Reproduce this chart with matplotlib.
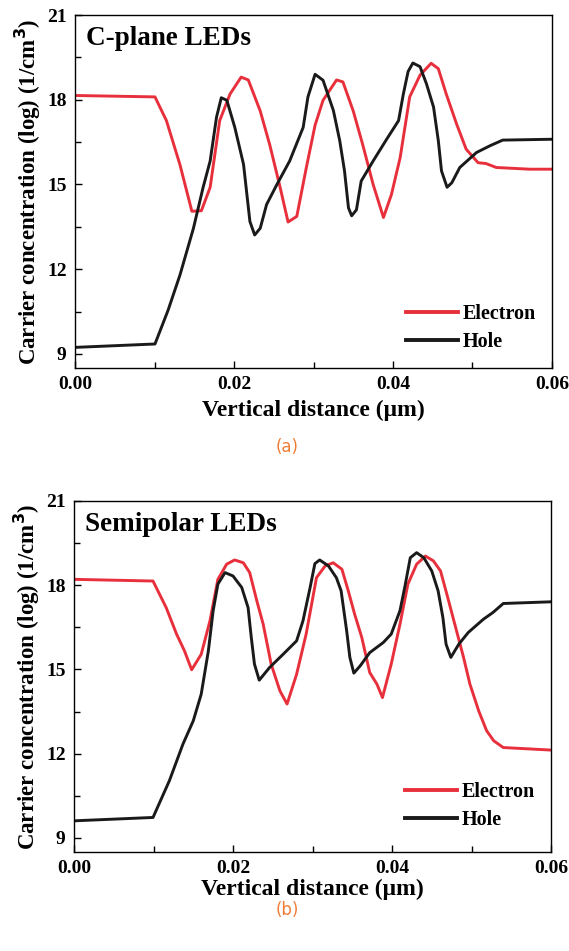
import matplotlib
matplotlib.use("Agg")
import matplotlib.pyplot as plt
from matplotlib.ticker import MultipleLocator

# ---- data: (a) C-plane ----
a_e_x = [0, 0.01006, 0.0115, 0.0132, 0.0147, 0.0159, 0.017, 0.0182, 0.0195, 0.0209, 0.0218,
         0.0233, 0.0245, 0.0258, 0.0268, 0.0279, 0.0291, 0.0302, 0.0312, 0.0329, 0.0337,
         0.035, 0.0362, 0.0375, 0.0388, 0.0398, 0.0409, 0.0421, 0.0434, 0.0448, 0.0457,
         0.0467, 0.048, 0.0492, 0.0507, 0.0517, 0.053, 0.0572, 0.06]
a_e_y = [18.15, 18.1, 17.26, 15.7, 14.05, 14.07, 14.9, 17.26, 18.2, 18.8, 18.7,
         17.6, 16.4, 14.9, 13.67, 13.87, 15.6, 17.1, 17.98, 18.7, 18.63,
         17.6, 16.4, 15.0, 13.83, 14.64, 15.95, 18.1, 18.87, 19.29, 19.1,
         18.2, 17.14, 16.25, 15.77, 15.74, 15.6, 15.54, 15.54]
a_h_x = [0, 0.01006, 0.0117, 0.0132, 0.0149, 0.0161, 0.017, 0.0178, 0.0184, 0.0191, 0.0201,
         0.0212, 0.022, 0.0226, 0.0233, 0.0241, 0.0254, 0.027, 0.0287, 0.0293, 0.0302,
         0.0312, 0.0325, 0.0333, 0.0339, 0.0344, 0.0348, 0.0354, 0.036, 0.0375, 0.0392,
         0.0407, 0.0413, 0.0419, 0.0425, 0.0434, 0.0442, 0.0451, 0.0457, 0.0461, 0.0468,
         0.0474, 0.0484, 0.0505, 0.0522, 0.0538, 0.06]
a_h_y = [9.23, 9.35, 10.54, 11.79, 13.45, 14.88, 15.83, 17.38, 18.07, 17.98, 17.02,
         15.71, 13.69, 13.21, 13.45, 14.29, 15.0, 15.83, 17.02, 18.1, 18.9,
         18.69, 17.62, 16.55, 15.48, 14.17, 13.89, 14.1, 15.12, 15.83, 16.6,
         17.26, 18.2, 19.0, 19.3, 19.17, 18.57, 17.74, 16.55, 15.48, 14.9,
         15.06, 15.6, 16.13, 16.37, 16.57, 16.6]

# ---- data: (b) Semipolar ----
b_e_x = [0, 0.00994, 0.0116, 0.0129, 0.0139, 0.0148, 0.016, 0.0171, 0.0181, 0.0192, 0.0202,
         0.0213, 0.0221, 0.023, 0.0238, 0.0248, 0.0259, 0.0268, 0.028, 0.0292, 0.0305,
         0.0316, 0.0326, 0.0337, 0.0345, 0.0353, 0.0362, 0.0372, 0.0381, 0.0388, 0.0399,
         0.041, 0.042, 0.0431, 0.0442, 0.0452, 0.0461, 0.0469, 0.0479, 0.049, 0.0498,
         0.0509, 0.0519, 0.0528, 0.054, 0.06]
b_e_y = [18.21, 18.15, 17.2, 16.26, 15.66, 14.99, 15.54, 16.73, 18.21, 18.75, 18.9,
         18.8, 18.45, 17.44, 16.61, 15.19, 14.24, 13.77, 14.83, 16.26, 18.27,
         18.69, 18.8, 18.57, 17.8, 16.97, 16.14, 14.89, 14.48, 14.0, 15.19,
         16.61, 18.04, 18.75, 19.04, 18.87, 18.51, 17.68, 16.61, 15.43, 14.48,
         13.53, 12.82, 12.46, 12.22, 12.13]
b_h_x = [0, 0.00994, 0.012, 0.0137, 0.015, 0.016, 0.0169, 0.0175, 0.0181, 0.019, 0.02,
         0.0211, 0.0219, 0.0223, 0.0227, 0.0233, 0.0246, 0.0263, 0.028, 0.0288, 0.0297,
         0.0303, 0.0309, 0.032, 0.033, 0.0336, 0.0343, 0.0347, 0.0352, 0.036, 0.0372,
         0.0389, 0.0399, 0.041, 0.0416, 0.0423, 0.0431, 0.044, 0.045, 0.0458, 0.0464,
         0.0468, 0.0474, 0.0484, 0.0496, 0.0515, 0.0527, 0.054, 0.06]
b_h_y = [9.61, 9.73, 11.04, 12.34, 13.17, 14.12, 15.66, 17.09, 18.04, 18.45, 18.33,
         17.92, 17.2, 16.14, 15.19, 14.62, 15.07, 15.54, 16.02, 16.73, 17.92,
         18.77, 18.9, 18.69, 18.27, 17.8, 16.37, 15.43, 14.87, 15.13, 15.6,
         15.96, 16.26, 17.09, 17.92, 18.98, 19.16, 18.98, 18.51, 17.8, 16.85,
         15.9, 15.43, 15.9, 16.32, 16.79, 17.03, 17.35, 17.41]

titles = ["C-plane LEDs", "Semipolar LEDs"]
panel_labels = ["(a)", "(b)"]
series_names = ["Electron", "Hole"]
xticks = [0.00, 0.02, 0.04, 0.06]
xtick_labels = ["0.00", "0.02", "0.04", "0.06"]
yticks = [9, 12, 15, 18, 21]

RED = "#e8303c"
BLACK = "#1a1a1a"
SERIF = "Liberation Serif"

fig = plt.figure(figsize=(5.69, 9.51), dpi=100)
rects = [[75/569, 1-368/951, 477/569, 353/951],
         [74/569, 1-852/951, 477/569, 351/951]]
data = [(a_e_x, a_e_y, a_h_x, a_h_y), (b_e_x, b_e_y, b_h_x, b_h_y)]
lab_y = [1-447/951, 1-910/951]
xlabpad = [5, 1]
leg_y = [-0.005, 0.011]

for i in range(2):
    ax = fig.add_axes(rects[i])
    ex, ey, hx, hy = data[i]
    ax.plot(ex, ey, color=RED, lw=2.1, label=series_names[0])
    ax.plot(hx, hy, color=BLACK, lw=2.1, label=series_names[1])
    ax.set_xlim(0, 0.06)
    ax.set_ylim(8.5, 21)
    ax.set_xticks(xticks)
    ax.set_xticklabels(xtick_labels)
    ax.set_yticks(yticks)
    ax.xaxis.set_minor_locator(MultipleLocator(0.01))
    ax.yaxis.set_minor_locator(MultipleLocator(1.5))
    ax.tick_params(which="both", direction="in", top=False, right=False)
    ax.tick_params(which="major", length=5, width=1, pad=6)
    ax.tick_params(which="minor", length=4, width=1)
    for lab in ax.get_xticklabels() + ax.get_yticklabels():
        lab.set_fontfamily(SERIF)
        lab.set_fontweight("bold")
        lab.set_fontsize(14)
    for s in ax.spines.values():
        s.set_linewidth(1.0)
    ax.set_xlabel("Vertical distance (\u03bcm)", fontfamily=SERIF, fontweight="bold",
                  fontsize=17, labelpad=xlabpad[i])
    ax.set_ylabel("Carrier concentration (log) (1/cm$^{\\mathbf{3}}$)", fontfamily=SERIF,
                  fontweight="bold", fontsize=16.5, labelpad=3)
    ax.text(0.023, 0.97, titles[i], transform=ax.transAxes, fontfamily=SERIF,
            fontweight="bold", fontsize=19.5, va="top", ha="left")
    leg = ax.legend(loc="lower right", bbox_to_anchor=(1.005, leg_y[i]), frameon=False,
                    prop={"family": SERIF, "weight": "bold", "size": 14.5},
                    handlelength=2.6, handletextpad=0.25, labelspacing=0.4)
    for h in leg.get_lines():
        h.set_linewidth(2.8)
    fig.text(287/569, lab_y[i], panel_labels[i], color="#f07d35", fontsize=12,
             ha="center", va="center", fontfamily="DejaVu Sans")

fig.savefig("out.png", dpi=100)
